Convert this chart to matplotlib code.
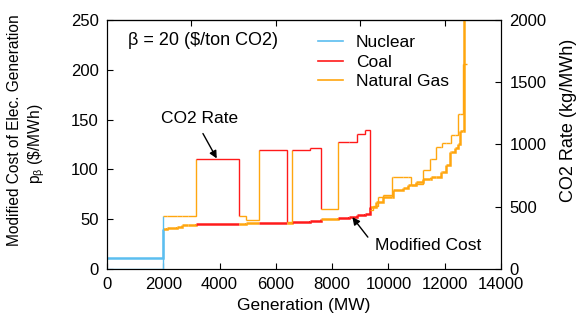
import numpy as np
import matplotlib
matplotlib.use("Agg")
import matplotlib.pyplot as plt
from matplotlib.lines import Line2D

plt.rcParams['font.family'] = ['Liberation Sans', 'DejaVu Sans']
plt.rcParams['mathtext.fontset'] = 'custom'
plt.rcParams['mathtext.rm'] = 'Liberation Sans'
plt.rcParams['mathtext.it'] = 'Liberation Sans:italic'

# supply stack, one entry per unit block (MW edges are cumulative capacity)
mw_edges = [0, 2000, 2150, 2480, 2650, 2880, 3150, 4700, 4930, 5410, 6400,
            6590, 7200, 7620, 8210, 8600, 8880, 9160, 9360, 9460, 9570,
            9630, 9810, 10140, 10170, 10520, 10700, 10815, 10990, 11230,
            11490, 11520, 11700, 11880, 11920, 12060, 12180, 12240, 12350,
            12470, 12530, 12650, 12690, 12780]
fuel = ['Nuclear', 'Natural Gas', 'Natural Gas', 'Natural Gas', 'Natural Gas',
        'Natural Gas', 'Coal', 'Natural Gas', 'Natural Gas', 'Coal',
        'Natural Gas', 'Coal', 'Coal', 'Natural Gas', 'Coal', 'Coal', 'Coal',
        'Coal'] + ['Natural Gas'] * 25
# modified cost, $/MWh
cost = [11, 40, 41, 42.5, 44, 44.5, 45, 45.5, 45.8, 46.3, 46.5, 46.8, 48,
        50.5, 51.5, 52.5, 54, 55.5, 62, 62, 67, 67, 72, 72, 79, 81, 84, 84,
        87, 90, 90, 92, 92, 97, 97, 104, 117, 117, 121, 126, 139, 139, 400]
# CO2 emission rate, kg/MWh
co2_rate = [0, 424, 424, 424, 424, 424, 880, 424, 392, 952, 376, 952, 968,
            480, 1024, 1024, 1088, 1120, 472, 504, 504, 576, 592, 736, 736,
            736, 736, 672, 680, 792, 880, 880, 976, 976, 1016, 1016, 1016,
            1080, 1080, 1248, 1248, 1648, 1648]

colors = {'Nuclear': '#5bbef0', 'Coal': '#ff1a1a', 'Natural Gas': '#ffa60f'}

fig = plt.figure(figsize=(5.83, 3.31), dpi=100)
ax = fig.add_axes([0.1835, 0.1873, 0.6758, 0.7523])
ax2 = ax.twinx()


def draw_stack(axis, vals, lw):
    n = len(vals)
    for i in range(n):
        x0, x1 = mw_edges[i], mw_edges[i + 1]
        xs = [x0, x1]
        ys = [vals[i], vals[i]]
        if i + 1 < n:
            xs.append(x1)
            ys.append(vals[i + 1])
        axis.plot(xs, ys, color=colors[fuel[i]], lw=lw,
                  solid_capstyle='butt', solid_joinstyle='miter')


draw_stack(ax2, co2_rate, 1.0)
draw_stack(ax, cost, 1.8)

ax.set_xlim(0, 14000)
ax.set_ylim(0, 250)
ax2.set_ylim(0, 2000)
ax.set_xticks(np.arange(0, 14001, 2000))
ax.set_yticks(np.arange(0, 251, 50))
ax2.set_yticks(np.arange(0, 2001, 500))
ax.tick_params(direction='in', labelsize=12, length=4, pad=6)
ax2.tick_params(direction='in', labelsize=12, length=4, pad=6)

top = ax.secondary_xaxis('top')
top.set_xticks([3000, 6000, 9000, 12000])
top.set_xticklabels([])
top.tick_params(direction='in', length=4)

ax.set_xlabel('Generation (MW)', fontsize=12.5, labelpad=4)
# two-line left axis title
fig.text(15 / 583, 1 - 130 / 331, 'Modified Cost of Elec. Generation',
         rotation=90, fontsize=11.2, ha='center', va='center')
fig.text(37 / 583, 1 - 144 / 331, r'p$_\mathrm{β}$ (\$/MWh)',
         rotation=90, fontsize=11.2, ha='center', va='center')
ax2.set_ylabel('CO2 Rate (kg/MWh)', fontsize=13)
ax2.yaxis.set_label_coords(1.15, 0.598)

ax.text(745, 229, 'β = 20 ($/ton CO2)', fontsize=13, ha='left', va='center')

ax.text(3280, 151, 'CO2 Rate', fontsize=12.5, ha='center', va='center')
ax.annotate('', xy=(3900, 111), xytext=(3410, 136),
            arrowprops=dict(arrowstyle='-|>', color='black', lw=1,
                            mutation_scale=11, shrinkA=0, shrinkB=0))
ax.text(11410, 23.5, 'Modified Cost', fontsize=12.5, ha='center', va='center')
ax.annotate('', xy=(8720, 52), xytext=(9270, 32),
            arrowprops=dict(arrowstyle='-|>', color='black', lw=1,
                            mutation_scale=11, shrinkA=0, shrinkB=0))

handles = [Line2D([], [], color=colors[k], lw=1.2)
           for k in ['Nuclear', 'Coal', 'Natural Gas']]
ax.legend(handles, ['Nuclear', 'Coal', 'Natural Gas'], loc='upper left',
          bbox_to_anchor=(0.535, 0.94), frameon=False, fontsize=12.5,
          borderpad=0, borderaxespad=0, handlelength=1.45,
          handletextpad=0.75, labelspacing=0.25)

fig.savefig('out.png', dpi=100)
